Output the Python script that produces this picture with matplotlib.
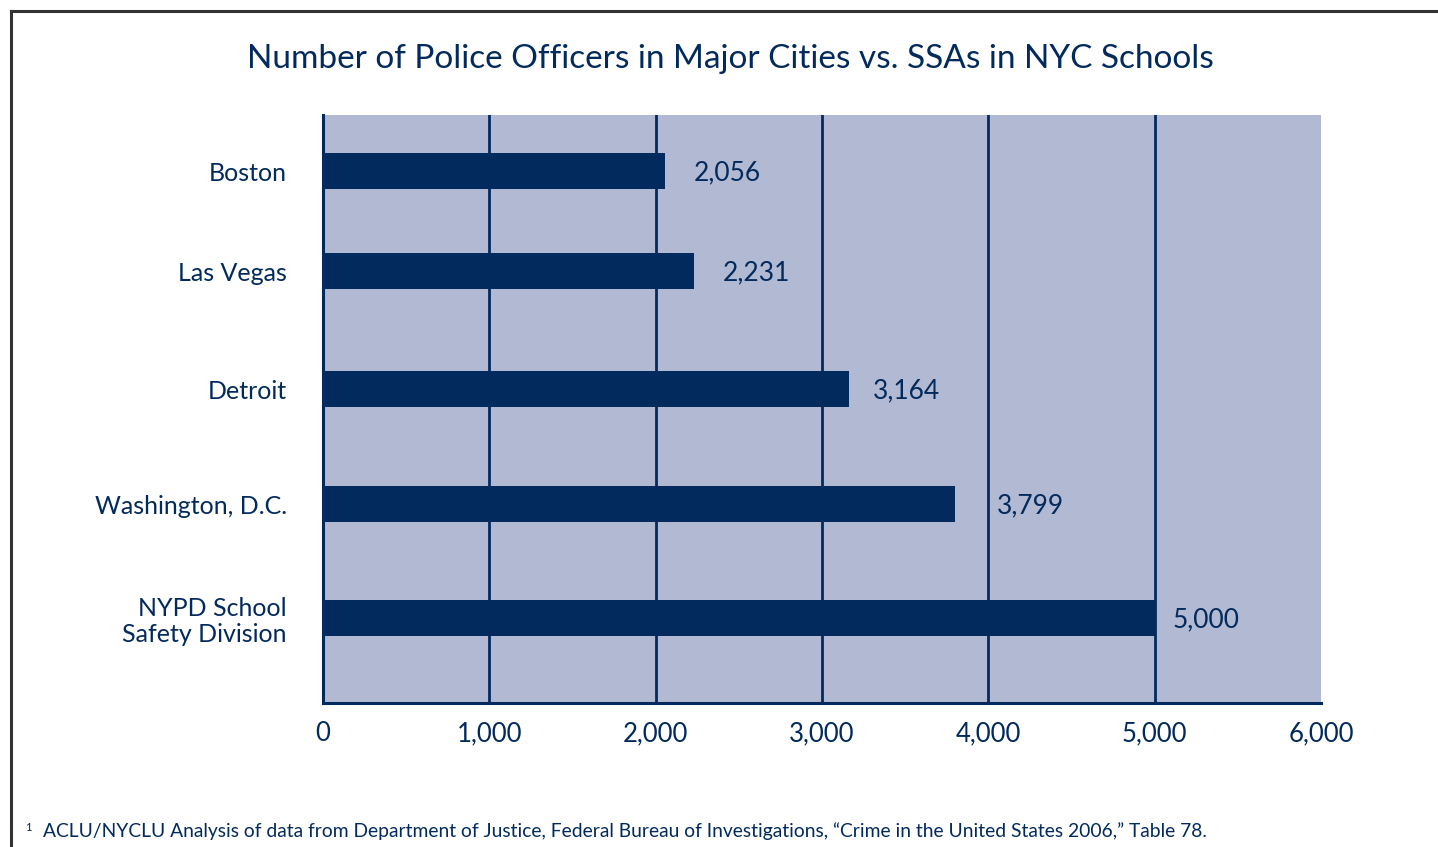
import matplotlib.pyplot as plt
from matplotlib.lines import Line2D

# data
cities = ['Boston', 'Las Vegas', 'Detroit', 'Washington, D.C.', 'NYPD School\nSafety Division']
officers = [2056, 2231, 3164, 3799, 5000]
labels = ['2,056', '2,231', '3,164', '3,799', '5,000']
ticks = [0, 1000, 2000, 3000, 4000, 5000, 6000]
tick_labels = ['0', '1,000', '2,000', '3,000', '4,000', '5,000', '6,000']
# bar centres (uneven in the original)
ypos = [532, 432, 314, 199, 85]
# gap between bar end and value label
gaps = [170, 170, 140, 250, 110]

navy = '#022a5c'
bg = '#b2b9d3'

plt.rcParams['font.family'] = ['Lato', 'DejaVu Sans']

fig = plt.figure(figsize=(14.38, 8.47), dpi=100)
ax = fig.add_axes([323 / 1438, 1 - 703 / 847, 998 / 1438, 588 / 847])
ax.set_facecolor(bg)

ax.barh(ypos, officers, height=36, color=navy, zorder=3)
for y, v, t, g in zip(ypos, officers, labels, gaps):
    ax.text(v + g, y - 2, t, va='center', ha='left', fontsize=19, color=navy, zorder=4)

ax.set_xlim(0, 6000)
ax.set_ylim(0, 588)
ax.set_xticks(ticks)
ax.set_xticklabels(tick_labels, fontsize=18.5, color=navy)
ax.tick_params(axis='x', length=0, pad=13)
ax.set_yticks(ypos)
ax.set_yticklabels(cities, fontsize=18, color=navy, linespacing=1.15)
ax.tick_params(axis='y', length=0, pad=26)
for lab in ax.get_yticklabels():
    lab.set_horizontalalignment('right')
    lab.set_multialignment('right')

for x in ticks[1:-1]:
    ax.axvline(x, color=navy, lw=2, zorder=2)

for s in ['top', 'right']:
    ax.spines[s].set_visible(False)
for s in ['left', 'bottom']:
    ax.spines[s].set_color(navy)
    ax.spines[s].set_linewidth(2.2)

fig.text(730 / 1438, 1 - 59 / 847, 'Number of Police Officers in Major Cities vs. SSAs in NYC Schools',
         ha='center', va='center', fontsize=24, color=navy)

fig.text(25 / 1438, 1 - 827 / 847, '1', ha='left', va='center', fontsize=8, color=navy)
fig.text(43 / 1438, 1 - 831 / 847,
         'ACLU/NYCLU Analysis of data from Department of Justice, Federal Bureau of Investigations, '
         '\u201cCrime in the United States 2006,\u201d Table 78.',
         ha='left', va='center', fontsize=13.9, color=navy)

# frame around the figure
fig.add_artist(Line2D([11 / 1438, 1], [1 - 11 / 847, 1 - 11 / 847], color='#333333', lw=2.2))
fig.add_artist(Line2D([11 / 1438, 11 / 1438], [0, 1 - 11 / 847], color='#333333', lw=2.2))

fig.savefig('out.png', dpi=100)
